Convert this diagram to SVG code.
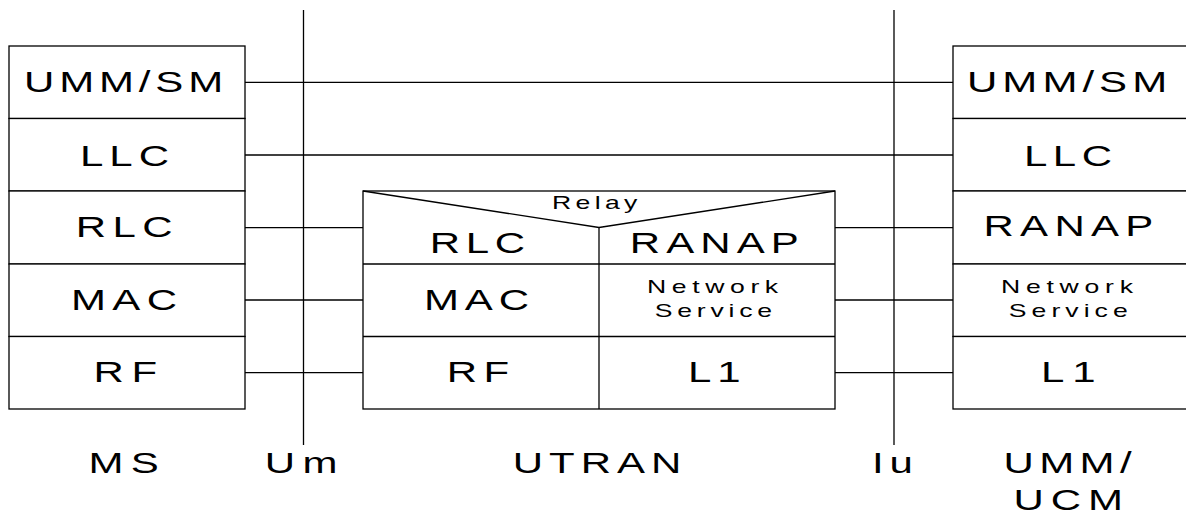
<svg xmlns="http://www.w3.org/2000/svg" width="1186" height="513" viewBox="0 0 1186 513">
<style>
rect.cell{fill:#fff;stroke:#000;stroke-width:1.3}
line{stroke:#000;stroke-width:1.3}
.c{stroke:#000;stroke-width:1.3;fill:none}
text{font-family:"Liberation Sans",Arial,sans-serif;fill:#000}
.big{font-size:30px}
.sm{font-size:19px}
</style>
<rect width="1186" height="513" fill="#fff"/>

<g id="ms">
  <g id="ms-ummsm"><rect class="cell" x="9" y="46" width="236" height="72.5"/><text class="big" transform="translate(24,92.3) scale(1.4,1)" letter-spacing="3.46">UMM/SM</text></g>
  <g id="ms-llc"><rect class="cell" x="9" y="118.5" width="236" height="72.5"/><text class="big" transform="translate(79.9,165.7) scale(1.4,1)" letter-spacing="4.3">LLC</text></g>
  <g id="ms-rlc"><rect class="cell" x="9" y="191" width="236" height="73"/><text class="big" transform="translate(75.8,236.7) scale(1.4,1)" letter-spacing="4.6">RLC</text></g>
  <g id="ms-mac"><rect class="cell" x="9" y="264" width="236" height="72.5"/><text class="big" transform="translate(70.9,310) scale(1.4,1)" letter-spacing="4.6">MAC</text></g>
  <g id="ms-rf"><rect class="cell" x="9" y="336.5" width="236" height="72.5"/><text class="big" transform="translate(93.5,381.7) scale(1.4,1)" letter-spacing="5.4">RF</text></g>
</g>

<g id="utran">
  <g id="utran-relay">
    <rect class="cell" x="363" y="191" width="472" height="218"/>
    <path class="c" d="M363,191 L599,227.5 L835,191"/>
    <text class="sm" transform="translate(552,209.3) scale(1.4,1)" letter-spacing="3.1">Relay</text>
  </g>
  <g id="utran-rlc"><text class="big" transform="translate(429.8,253.3) scale(1.4,1)" letter-spacing="4">RLC</text></g>
  <g id="utran-ranap"><text class="big" transform="translate(629.8,253.3) scale(1.4,1)" letter-spacing="4.36">RANAP</text></g>
  <g id="utran-mac"><line x1="363" y1="264" x2="835" y2="264"/><text class="big" transform="translate(423.9,310) scale(1.4,1)" letter-spacing="4.2">MAC</text></g>
  <g id="utran-ns"><text class="sm" transform="translate(647,293.3) scale(1.4,1)" letter-spacing="4">Network</text><text class="sm" transform="translate(654.8,316.7) scale(1.4,1)" letter-spacing="3.4">Service</text></g>
  <g id="utran-rf"><line x1="363" y1="336.5" x2="835" y2="336.5"/><text class="big" transform="translate(446.8,381.7) scale(1.4,1)" letter-spacing="4.5">RF</text></g>
  <g id="utran-l1"><line x1="599" y1="227.5" x2="599" y2="409"/><text class="big" transform="translate(687.9,381.7) scale(1.4,1)" letter-spacing="4.3">L1</text></g>
</g>

<g id="cn">
  <g id="cn-ummsm"><rect class="cell" x="953" y="46" width="240" height="72.5"/><text class="big" transform="translate(967,92.3) scale(1.4,1)" letter-spacing="3.6">UMM/SM</text></g>
  <g id="cn-llc"><rect class="cell" x="953" y="118.5" width="240" height="72.5"/><text class="big" transform="translate(1023.9,165.7) scale(1.4,1)" letter-spacing="4">LLC</text></g>
  <g id="cn-ranap"><rect class="cell" x="953" y="191" width="240" height="73"/><text class="big" transform="translate(983.5,236.2) scale(1.4,1)" letter-spacing="4.5">RANAP</text></g>
  <g id="cn-ns"><rect class="cell" x="953" y="264" width="240" height="72.5"/><text class="sm" transform="translate(1001,293.3) scale(1.4,1)" letter-spacing="4.1">Network</text><text class="sm" transform="translate(1008.8,316.7) scale(1.4,1)" letter-spacing="3.6">Service</text></g>
  <g id="cn-l1"><rect class="cell" x="953" y="336.5" width="240" height="72.5"/><text class="big" transform="translate(1040.9,381.7) scale(1.4,1)" letter-spacing="5.7">L1</text></g>
</g>

<g id="connectors">
  <line x1="303.5" y1="10" x2="303.5" y2="445"/>
  <line x1="894" y1="10" x2="894" y2="445"/>
  <line x1="245" y1="82.3" x2="953" y2="82.3"/>
  <line x1="245" y1="155" x2="953" y2="155"/>
  <line x1="245" y1="227.7" x2="363" y2="227.7"/>
  <line x1="245" y1="300" x2="363" y2="300"/>
  <line x1="245" y1="372.7" x2="363" y2="372.7"/>
  <line x1="835" y1="227.7" x2="953" y2="227.7"/>
  <line x1="835" y1="300" x2="953" y2="300"/>
  <line x1="835" y1="372.7" x2="953" y2="372.7"/>
</g>

<g id="labels">
  <text class="big" transform="translate(88.6,472.7) scale(1.4,1)" letter-spacing="5.1">MS</text>
  <text class="big" transform="translate(264.7,472.7) scale(1.4,1)" letter-spacing="5.4">Um</text>
  <text class="big" transform="translate(512.7,472.7) scale(1.4,1)" letter-spacing="4.3">UTRAN</text>
  <text class="big" transform="translate(872,472.7) scale(1.4,1)" letter-spacing="4.1">Iu</text>
  <text class="big" transform="translate(1003.4,472.7) scale(1.4,1)" letter-spacing="3.9">UMM/</text>
  <text class="big" transform="translate(1013.4,510) scale(1.4,1)" letter-spacing="5">UCM</text>
</g>
</svg>
